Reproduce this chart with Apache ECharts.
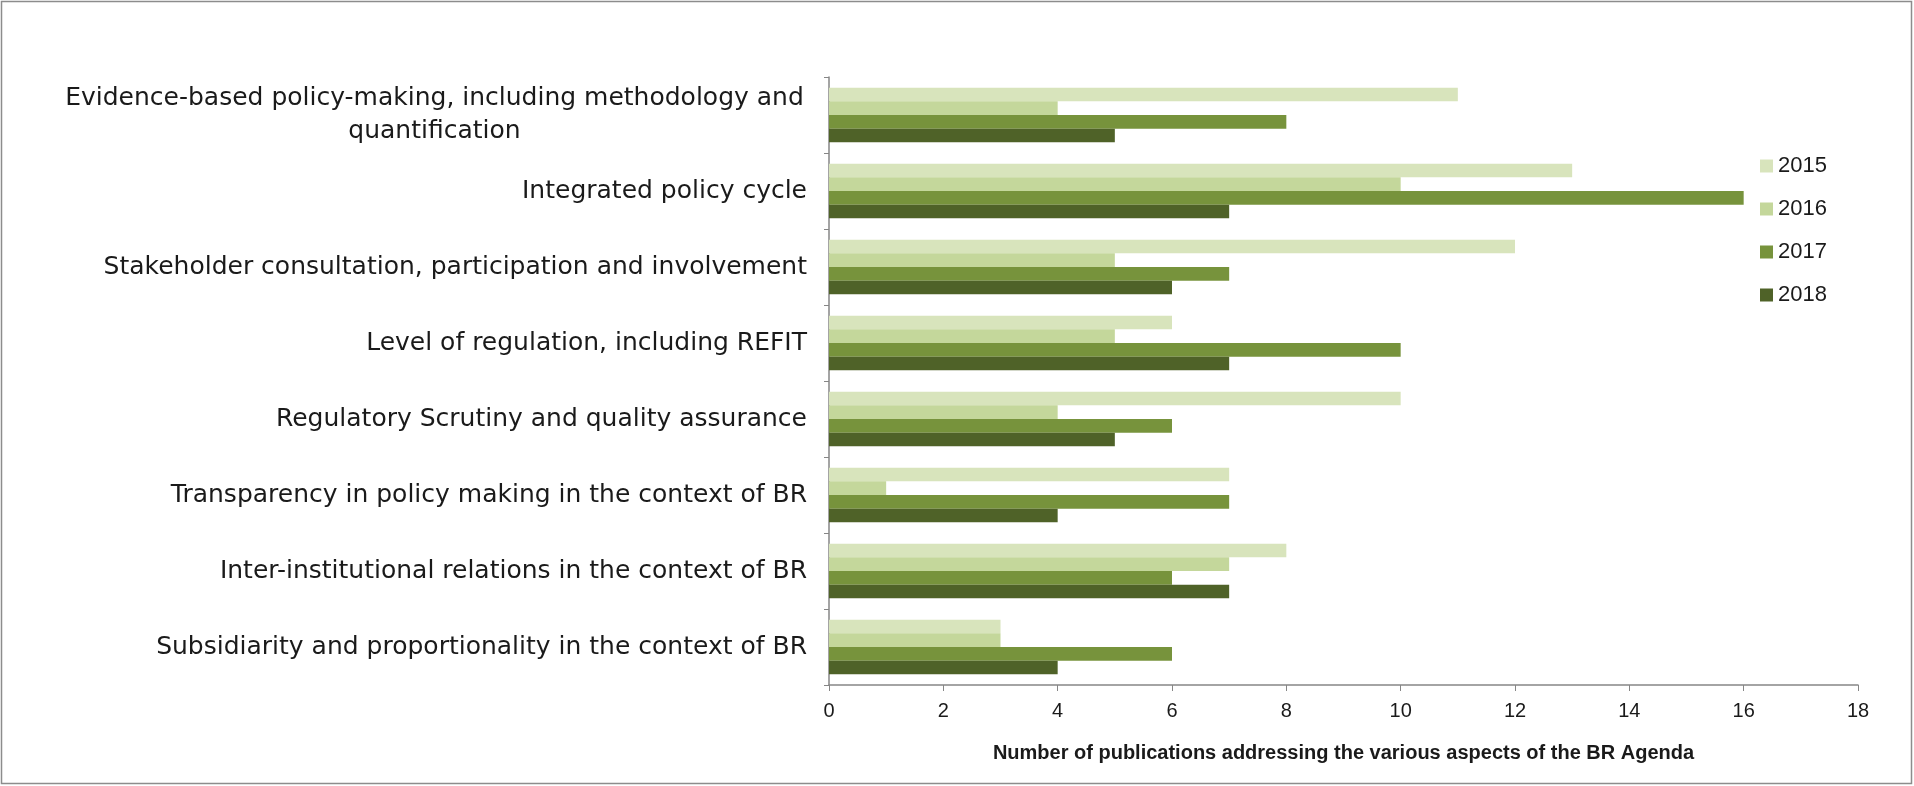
<!DOCTYPE html>
<html>
<head>
<meta charset="utf-8">
<script src="https://cdn.jsdelivr.net/npm/echarts@6/dist/echarts.min.js"></script>
<style>
  html, body { margin: 0; padding: 0; background: #fff; }
  #chart { width: 1914px; height: 786px; }
</style>
</head>
<body>
<div id="chart"></div>
<script>
// categories, top to bottom
let categories = [
  "Evidence-based policy-making, including methodology and quantification",
  "Integrated policy cycle",
  "Stakeholder consultation, participation and involvement",
  "Level of regulation, including REFIT",
  "Regulatory Scrutiny and quality assurance",
  "Transparency in policy making in the context of BR",
  "Inter-institutional relations in the context of BR",
  "Subsidiarity and proportionality in the context of BR",
];
let years = ["2015", "2016", "2017", "2018"];
let data2015 = [11, 13, 12, 6, 10, 7, 8, 3];
let data2016 = [4, 10, 5, 5, 4, 1, 7, 3];
let data2017 = [8, 16, 7, 10, 6, 7, 6, 6];
let data2018 = [5, 7, 6, 7, 5, 4, 7, 4];
let xTicks = { min: 0, max: 18, interval: 2 };

let colors = ["#d8e4bc", "#c4d79b", "#77933c", "#4f6228"];
let allData = [data2015, data2016, data2017, data2018];

var chart = echarts.init(document.getElementById("chart"));

let seriesList = [];
years.forEach((y, i) => {
  seriesList.push({
    name: y,
    type: "bar",
    data: allData[i],
    barGap: "0%",
    barCategoryGap: "28%",
    itemStyle: {
      color: colors[i],
    },
  });
});

let option = {
  animation: false,
  textStyle: { fontFamily: "DejaVu Sans" },
  graphic: [
    {
      type: "rect",
      shape: { x: 1.5, y: 1.5, width: 1910, height: 782 },
      style: { fill: "none", stroke: "#8c8c8c", lineWidth: 1.5 },
    },
  ],
  legend: {
    orient: "vertical",
    left: 1755,
    top: 150,
    itemWidth: 13,
    itemHeight: 13,
    itemGap: 21,
    icon: "rect",
    textStyle: { fontSize: 22, color: "#1a1a1a", fontFamily: "Liberation Sans", padding: [0, 0, 0, 0] },
    data: years,
  },
  grid: {
    left: 829,
    right: 56,
    top: 77,
    bottom: 101,
    containLabel: false,
  },
  xAxis: {
    type: "value",
    min: xTicks.min,
    max: xTicks.max,
    interval: xTicks.interval,
    name: "Number of publications addressing the various aspects of the BR Agenda",
    nameLocation: "middle",
    nameGap: 58,
    nameTextStyle: {
      fontFamily: "Liberation Sans",
      fontWeight: "bold",
      fontSize: 20,
      color: "#1a1a1a",
    },
    splitLine: { show: false },
    axisLine: { show: true, lineStyle: { color: "#868686", width: 1.5 } },
    axisTick: { show: true, length: 6, lineStyle: { color: "#868686" } },
    axisLabel: {
      fontFamily: "Liberation Sans",
      fontSize: 20,
      color: "#1a1a1a",
      margin: 16,
    },
  },
  yAxis: {
    type: "category",
    inverse: true,
    data: categories,
    axisLine: { show: true, lineStyle: { color: "#868686", width: 1.5 } },
    axisTick: { show: true, length: 5, lineStyle: { color: "#868686" } },
    axisLabel: {
      fontSize: 25,
      color: "#1a1a1a",
      margin: 22,
      align: "right",
      formatter: function (value, idx) {
        if (idx === 0) {
          return "{w|Evidence-based policy-making, including methodology and}\n{w|quantification}";
        }
        return value;
      },
      rich: {
        w: {
          fontSize: 25,
          color: "#1a1a1a",
          fontFamily: "DejaVu Sans",
          width: 745,
          align: "center",
          lineHeight: 33,
        },
      },
    },
  },
  series: seriesList,
};

chart.setOption(option, true);
</script>
</body>
</html>
